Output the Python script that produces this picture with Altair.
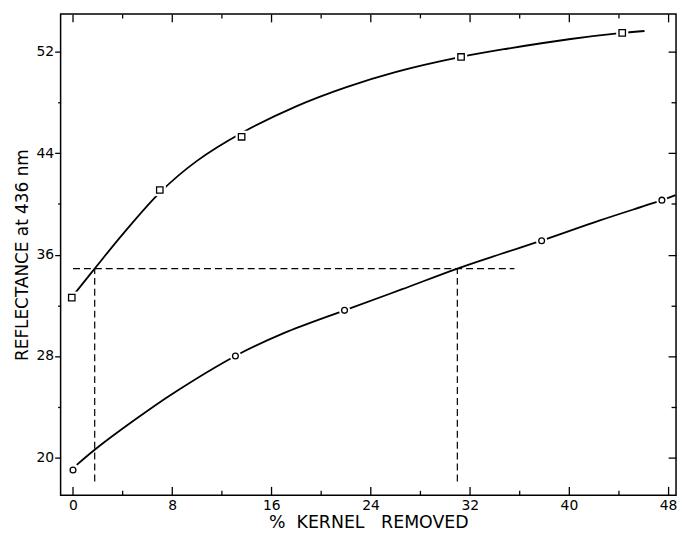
import altair as alt
import pandas as pd

# ---- axis ticks ----
x_ticks = [0, 8, 16, 24, 32, 40, 48]
x_minor = [4, 12, 20, 28, 36, 44]
y_ticks = [20, 28, 36, 44, 52]
y_minor = [24, 32, 40, 48]

# ---- measured points ----
sq_x = [-0.1, 7.0, 13.6, 31.3, 44.3]
sq_y = [32.6, 41.1, 45.3, 51.6, 53.5]
ci_x = [0.0, 13.1, 21.9, 37.8, 47.5]
ci_y = [19.0, 28.0, 31.6, 37.1, 40.3]

# ---- hand-drawn fitted curves ----
up_x = [0.2, 2.0, 4.0, 7.0, 10.0, 13.6, 18.0, 22.0, 26.0, 31.3, 35.0, 40.0, 44.3, 46.1]
up_y = [33.0, 35.2, 37.6, 40.9, 43.4, 45.6, 47.7, 49.2, 50.4, 51.6, 52.25, 53.0, 53.5, 53.65]
lo_x = [0.3, 1.75, 4.9, 8.0, 13.1, 17.0, 21.9, 26.5, 31.0, 34.5, 37.8, 42.5, 47.5, 48.6]
lo_y = [19.4, 20.6, 22.9, 25.0, 28.0, 29.8, 31.6, 33.25, 34.9, 36.05, 37.1, 38.7, 40.3, 40.7]

# ---- dashed guide lines ----
guide_x = [0.0, 1.75, 31.0]
guide_x2 = [35.6, 1.75, 31.0]
guide_y = [34.9, 18.1, 18.1]
guide_y2 = [34.9, 34.9, 34.9]

curves = pd.concat([
    pd.DataFrame({"x": up_x, "y": up_y, "series": "square"}),
    pd.DataFrame({"x": lo_x, "y": lo_y, "series": "circle"}),
])
squares = pd.DataFrame({"x": sq_x, "y": sq_y})
circles = pd.DataFrame({"x": ci_x, "y": ci_y})
guides = pd.DataFrame({"x": guide_x, "x2": guide_x2, "y": guide_y, "y2": guide_y2})

xs = alt.Scale(domain=[-1.0, 48.64], nice=False, zero=False)
ys = alt.Scale(domain=[17.0, 55.0], nice=False, zero=False)

FONT = "DejaVu Sans"
TW = 1.3


def tick_axis(orient, values, size):
    return alt.Axis(orient=orient, values=values, offset=-size, tickSize=size,
                    labels=False, domain=False, grid=False, ticks=True,
                    tickColor="black", tickWidth=TW, title=None)


def out_axis(orient, values, size):
    return alt.Axis(orient=orient, values=values, tickSize=size,
                    labels=False, domain=False, grid=False, ticks=True,
                    tickColor="black", tickWidth=TW, title=None)


x_main = alt.Axis(orient="bottom", values=x_ticks, ticks=False, domain=False, grid=False,
                  labelFont=FONT, labelFontSize=14, labelColor="black", labelPadding=3,
                  title="% \u00a0KERNEL \u00a0\u00a0REMOVED", titleFont=FONT, titleFontSize=17.5,
                  titleFontWeight="normal", titleColor="black", titlePadding=1)
y_main = alt.Axis(orient="left", values=y_ticks, tickSize=6, tickColor="black", tickWidth=TW,
                  domain=False, grid=False,
                  labelFont=FONT, labelFontSize=14, labelColor="black", labelPadding=1,
                  title="REFLECTANCE at 436 nm", titleFont=FONT, titleFontSize=17,
                  titleFontWeight="normal", titleColor="black", titlePadding=5)

lines = alt.Chart(curves).mark_line(color="black", strokeWidth=1.8, interpolate="catmull-rom").encode(
    x=alt.X("x:Q", scale=xs, axis=x_main),
    y=alt.Y("y:Q", scale=ys, axis=y_main),
    detail="series:N",
)

dashed = alt.Chart(guides).mark_rule(color="black", strokeWidth=1.2, strokeDash=[7, 4]).encode(
    x=alt.X("x:Q", scale=xs, axis=tick_axis("bottom", x_ticks, 9)),
    x2="x2:Q",
    y=alt.Y("y:Q", scale=ys, axis=out_axis("left", y_minor, 3)),
    y2="y2:Q",
)

sq_halo = alt.Chart(squares).mark_point(shape="square", filled=True, color="white", opacity=1, size=150).encode(
    x=alt.X("x:Q", scale=xs, axis=tick_axis("bottom", x_minor, 5)),
    y=alt.Y("y:Q", scale=ys, axis=tick_axis("right", y_ticks, 8)),
)

ci_halo = alt.Chart(circles).mark_point(shape="circle", filled=True, color="white", opacity=1, size=130).encode(
    x=alt.X("x:Q", scale=xs, axis=tick_axis("top", x_ticks, 8)),
    y=alt.Y("y:Q", scale=ys, axis=tick_axis("right", y_minor, 5)),
)

sq_pts = alt.Chart(squares).mark_point(shape="square", fill="white", stroke="black",
                                       strokeWidth=1.3, opacity=1, size=42).encode(
    x=alt.X("x:Q", scale=xs, axis=tick_axis("top", x_minor, 4)),
    y=alt.Y("y:Q", scale=ys, axis=None),
)

ci_pts = alt.Chart(circles).mark_point(shape="circle", fill="white", stroke="black",
                                       strokeWidth=1.3, opacity=1, size=34).encode(
    x=alt.X("x:Q", scale=xs, axis=None),
    y=alt.Y("y:Q", scale=ys, axis=None),
)

chart = alt.layer(dashed, lines, sq_halo, ci_halo, sq_pts, ci_pts).resolve_axis(
    x="independent", y="independent"
).properties(
    width=620, height=485,
    padding={"left": 5, "top": 3, "right": 0, "bottom": 0},
    background="white",
).configure_view(stroke="black", strokeWidth=1.5)

chart.save("out.html", embed_options={"renderer": "svg", "actions": False})
